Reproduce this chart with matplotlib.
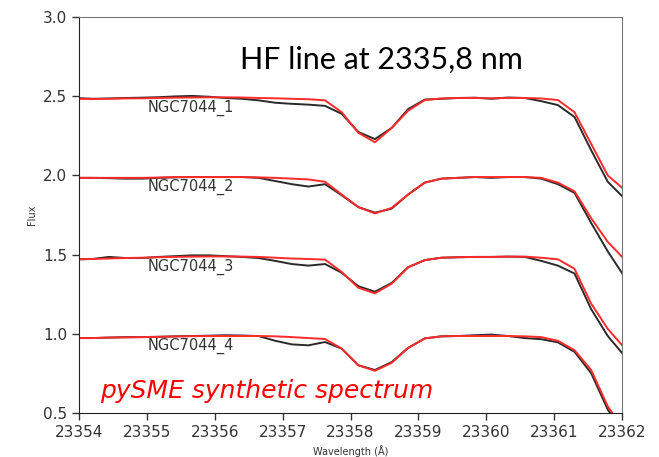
import matplotlib
matplotlib.use("Agg")
import matplotlib.pyplot as plt

# wavelength grid (Angstrom)
wave = [23353.950, 23354.195, 23354.440, 23354.685, 23354.930, 23355.175, 23355.420,
        23355.665, 23355.910, 23356.155, 23356.400, 23356.645, 23356.890, 23357.135,
        23357.380, 23357.625, 23357.870, 23358.115, 23358.360, 23358.605, 23358.850,
        23359.095, 23359.340, 23359.585, 23359.830, 23360.075, 23360.320, 23360.565,
        23360.810, 23361.055, 23361.300, 23361.545, 23361.790, 23362.035, 23362.280]

# observed (black) and pySME synthetic (red), already offset by 0.5 each
obs_1 = [2.49, 2.485, 2.487, 2.49, 2.492, 2.495, 2.50, 2.503, 2.498, 2.49, 2.485, 2.475,
         2.46, 2.453, 2.448, 2.44, 2.39, 2.275, 2.23, 2.30, 2.42, 2.48, 2.485, 2.49, 2.492,
         2.485, 2.493, 2.49, 2.47, 2.445, 2.37, 2.16, 1.96, 1.855, 1.83]
syn_1 = [2.485, 2.483, 2.485, 2.487, 2.488, 2.49, 2.492, 2.493, 2.494, 2.494, 2.493, 2.49,
         2.488, 2.485, 2.482, 2.475, 2.40, 2.27, 2.21, 2.30, 2.41, 2.477, 2.487, 2.49, 2.49,
         2.488, 2.49, 2.49, 2.487, 2.477, 2.40, 2.20, 2.00, 1.91, 1.88]

obs_2 = [1.985, 1.985, 1.983, 1.98, 1.98, 1.985, 1.988, 1.99, 1.99, 1.99, 1.99, 1.985,
         1.965, 1.945, 1.93, 1.945, 1.875, 1.80, 1.765, 1.79, 1.88, 1.955, 1.98, 1.985, 1.99,
         1.985, 1.99, 1.99, 1.98, 1.945, 1.89, 1.70, 1.52, 1.36, 1.33]
syn_2 = [1.985, 1.985, 1.985, 1.985, 1.985, 1.987, 1.99, 1.99, 1.99, 1.99, 1.99, 1.988,
         1.985, 1.98, 1.975, 1.96, 1.88, 1.80, 1.76, 1.795, 1.88, 1.955, 1.98, 1.985, 1.99,
         1.99, 1.99, 1.99, 1.985, 1.955, 1.90, 1.73, 1.58, 1.47, 1.44]

obs_3 = [1.47, 1.472, 1.485, 1.478, 1.478, 1.485, 1.49, 1.495, 1.495, 1.49, 1.485, 1.478,
         1.46, 1.44, 1.43, 1.44, 1.385, 1.30, 1.265, 1.32, 1.42, 1.465, 1.48, 1.483, 1.485,
         1.485, 1.487, 1.485, 1.46, 1.43, 1.38, 1.155, 0.985, 0.86, 0.83]
syn_3 = [1.47, 1.472, 1.475, 1.478, 1.48, 1.483, 1.485, 1.487, 1.488, 1.488, 1.487, 1.485,
         1.48, 1.475, 1.472, 1.468, 1.39, 1.29, 1.255, 1.315, 1.42, 1.465, 1.48, 1.483, 1.485,
         1.485, 1.487, 1.487, 1.48, 1.47, 1.41, 1.19, 1.03, 0.91, 0.88]

obs_4 = [0.972, 0.972, 0.975, 0.978, 0.978, 0.98, 0.983, 0.985, 0.987, 0.99, 0.988, 0.985,
         0.955, 0.932, 0.926, 0.947, 0.905, 0.80, 0.77, 0.82, 0.91, 0.97, 0.983, 0.985, 0.99,
         0.994, 0.985, 0.972, 0.965, 0.945, 0.885, 0.75, 0.52, 0.37, 0.33]
syn_4 = [0.972, 0.972, 0.975, 0.976, 0.978, 0.98, 0.982, 0.984, 0.985, 0.985, 0.985, 0.985,
         0.983, 0.978, 0.972, 0.966, 0.905, 0.80, 0.765, 0.815, 0.91, 0.97, 0.983, 0.985,
         0.985, 0.985, 0.985, 0.983, 0.978, 0.955, 0.895, 0.77, 0.54, 0.39, 0.34]

names = ["NGC7044_1", "NGC7044_2", "NGC7044_3", "NGC7044_4"]
label_y = [2.40, 1.90, 1.40, 0.90]

fig = plt.figure(figsize=(6.59, 4.57), dpi=100)
ax = fig.add_axes([0.1199, 0.0969, 0.824, 0.8652])

for o, s in [(obs_1, syn_1), (obs_2, syn_2), (obs_3, syn_3), (obs_4, syn_4)]:
    ax.plot(wave, o, color="#2a2a2a", lw=1.4)
    ax.plot(wave, s, color="#ff2a2a", lw=1.4)

for n, yy in zip(names, label_y):
    ax.text(23355.01, yy, n, fontsize=10.5, color="#333333", va="baseline")

ax.text(23356.37, 2.677, "HF line at 2335,8 nm", fontsize=22, family="Lato",
        color="black", va="baseline")
ax.text(23354.31, 0.59, "pySME synthetic spectrum", fontsize=18, family="DejaVu Sans",
        style="oblique", color="#ff0000", va="baseline")

ax.set_xlim(23354, 23362)
ax.set_ylim(0.5, 3.0)
ax.set_xticks([23354, 23355, 23356, 23357, 23358, 23359, 23360, 23361, 23362])
ax.set_yticks([0.5, 1.0, 1.5, 2.0, 2.5, 3.0])
ax.tick_params(labelsize=11, colors="#333333", length=5, width=1)
ax.ticklabel_format(useOffset=False, style="plain", axis="x")
ax.set_xlabel("Wavelength (Å)", fontsize=7, color="#333333", labelpad=4)
ax.set_ylabel("Flux", fontsize=7, color="#333333", labelpad=4)

ax.spines["left"].set_color("#222222")
ax.spines["bottom"].set_color("#222222")
ax.spines["top"].set_color("#777777")
ax.spines["right"].set_color("#777777")

fig.savefig("out.png", dpi=100)
